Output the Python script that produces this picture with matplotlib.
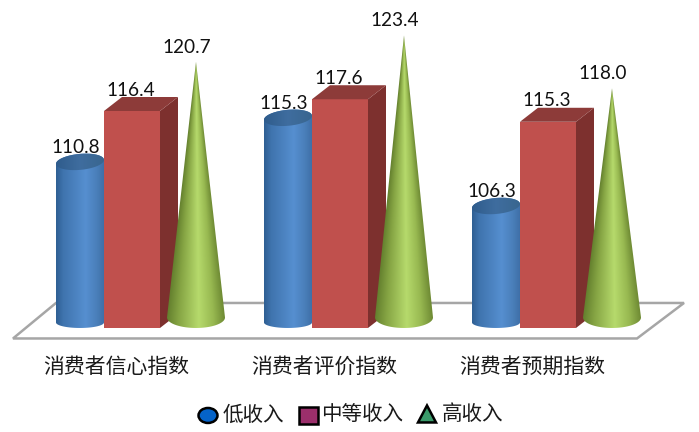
import numpy as np
import matplotlib
matplotlib.use('Agg')
import matplotlib.pyplot as plt
from matplotlib.colors import LinearSegmentedColormap
from matplotlib.patches import Ellipse, Polygon

plt.rcParams['font.family'] = ['Noto Sans CJK SC', 'DejaVu Sans']

categories = ['消费者信心指数', '消费者评价指数', '消费者预期指数']
low_income = [110.8, 115.3, 106.3]
mid_income = [116.4, 117.6, 115.3]
high_income = [120.7, 123.4, 118.0]
legend_names = ['低收入', '中等收入', '高收入']

# one category = 208 px, one index point = 9.8 px
XPX = 1 / 208.0
YPX = 1 / 9.8
BASE = 94.26

blue_cmap = LinearSegmentedColormap.from_list('b', [(0, '#2f5f93'), (0.15, '#3f74ae'), (0.62, '#568fd0'), (0.85, '#4a7fba'), (1, '#3f70a8')])
green_cmap = LinearSegmentedColormap.from_list('g', [(0, '#64802e'), (0.2, '#86a544'), (0.55, '#b6da6c'), (0.8, '#98b951'), (1, '#6f8b34')])
blue_top = LinearSegmentedColormap.from_list('bt', ['#2f5c8c', '#3f6d9f', '#39668f'])


def cap_edge(top, t):
    # cap is seen at a slant, rising a little to the right
    return top + (4 + 8 * np.sin(t) + 2 * np.cos(t)) * YPX


def fill_cylinder(ax, cx, top):
    rx = 24 * XPX
    t = np.linspace(0, np.pi, 60)
    bottom = BASE + 5.5 * YPX
    xs = np.r_[cx + rx * np.cos(t), cx - rx * np.cos(t)]
    ys = np.r_[cap_edge(top, t), bottom - 5.5 * YPX * np.sin(t)]
    clip = Polygon(np.c_[xs, ys], closed=True, transform=ax.transData, fc='none', ec='none')
    ax.add_patch(clip)
    grad = np.linspace(0, 1, 128).reshape(1, -1)
    im = ax.imshow(grad, extent=[cx - rx, cx + rx, BASE, top + 15 * YPX], cmap=blue_cmap,
                   aspect='auto', vmin=0, vmax=1, zorder=2)
    im.set_clip_path(clip)
    t2 = np.linspace(0, 2 * np.pi, 120)
    cap_xy = np.c_[cx + rx * np.cos(t2), cap_edge(top, t2)]
    cap = Polygon(cap_xy, closed=True, transform=ax.transData, fc='none', ec='none')
    ax.add_patch(cap)
    im2 = ax.imshow(grad, extent=[cx - rx, cx + rx, top - 8 * YPX, top + 15 * YPX], cmap=blue_top,
                    aspect='auto', vmin=0, vmax=1, zorder=2.1)
    im2.set_clip_path(cap)


def fill_bar(ax, left, value):
    w = 56 * XPX
    dx = 18 * XPX
    dy = 14 * YPX
    ax.bar(left, value - BASE, width=w, bottom=BASE, align='edge', color='#c0504d', lw=0, zorder=3)
    side = [(left + w, BASE), (left + w + dx, BASE + dy), (left + w + dx, value + dy), (left + w, value)]
    top = [(left, value), (left + dx, value + dy), (left + w + dx, value + dy), (left + w, value)]
    ax.add_patch(Polygon(side, closed=True, fc='#7d302e', ec='none', zorder=3))
    ax.add_patch(Polygon(top, closed=True, fc='#8d3b39', ec='none', zorder=3))


def fill_cone(ax, cx, value):
    rx = 29 * XPX
    apex = value + 7 * YPX
    base_c = BASE + 10.5 * YPX
    low = BASE
    t = np.linspace(np.pi, 2 * np.pi, 60)
    xs = np.r_[cx + rx * np.cos(t), cx]
    ys = np.r_[base_c + 10.5 * YPX * np.sin(t), apex]
    clip = Polygon(np.c_[xs, ys], closed=True, transform=ax.transData, fc='none', ec='none')
    ax.add_patch(clip)
    # shading follows the slant of the cone
    row = np.linspace(apex, low, 300)
    half = np.maximum(rx * (apex - row) / (apex - base_c), 1e-4)
    half = np.minimum(half, rx)
    col = np.linspace(cx - rx, cx + rx, 200)
    u = (col[None, :] - cx) / half[:, None]
    u = np.clip((u + 1) / 2, 0, 1)
    im = ax.imshow(u, extent=[cx - rx, cx + rx, low, apex], cmap=green_cmap,
                   aspect='auto', vmin=0, vmax=1, zorder=4)
    im.set_clip_path(clip)


fig = plt.figure(figsize=(6.99, 4.32), dpi=100)
ax = fig.add_axes([0, 0, 1, 1])
ax.axis('off')

# floor of the 3d box
floor = [(-119 * XPX, BASE - 10.5 * YPX), (505 * XPX, BASE - 10.5 * YPX),
         (552 * XPX, BASE + 25 * YPX), (-76 * XPX, BASE + 25 * YPX)]
ax.add_patch(Polygon(floor, closed=True, fc='white', ec='#a6a6a6', lw=1.8, zorder=1))

for i in range(3):
    fill_cylinder(ax, i - 52 * XPX, low_income[i])
    fill_bar(ax, i - 28 * XPX, mid_income[i])
    fill_cone(ax, i + 64 * XPX, high_income[i])

    ax.text(i - 56 * XPX, low_income[i] + 18 * YPX, '%.1f' % low_income[i], family='Lato', fontsize=13.7,
            ha='center', va='center', color='#111111', zorder=6)
    ax.text(i - 1.5 * XPX, mid_income[i] + 21 * YPX, '%.1f' % mid_income[i], family='Lato', fontsize=13.7,
            ha='center', va='center', color='#111111', zorder=6)
    ax.text(i + 55 * XPX, high_income[i] + 21.5 * YPX, '%.1f' % high_income[i], family='Lato', fontsize=13.7,
            ha='center', va='center', color='#111111', zorder=6)
    ax.text(i - 15.5 * XPX, BASE - 38.5 * YPX, categories[i], fontsize=15, ha='center', va='center',
            color='#1a1a1a', fontweight='light', zorder=6)

# legend
leg_y = BASE - 87.5 * YPX
ax.add_patch(Ellipse((76 * XPX, leg_y), 19 * XPX, 15 * YPX, fc='#0563c8', ec='black', lw=1.8, zorder=6))
ax.add_patch(Polygon([(167 * XPX, leg_y - 8.5 * YPX), (186 * XPX, leg_y - 8.5 * YPX),
                      (186 * XPX, leg_y + 8.5 * YPX), (167 * XPX, leg_y + 8.5 * YPX)],
                     closed=True, fc='#9b2f6b', ec='black', lw=1.8, zorder=6))
ax.add_patch(Polygon([(286 * XPX, leg_y - 7 * YPX), (304 * XPX, leg_y - 7 * YPX), (295 * XPX, leg_y + 10 * YPX)],
                     closed=True, fc='#3a9a6a', ec='black', lw=1.8, zorder=6))
for x, name in zip([90.5, 189.5, 309.5], legend_names):
    ax.text(x * XPX, leg_y + 1 * YPX, name, fontsize=14.8, ha='left', va='center', color='#1a1a1a',
            fontweight='light', zorder=6)

ax.set_xlim(-132 * XPX, (699 - 132) * XPX)
ax.set_ylim(116.4 - (432 - 111) * YPX, 116.4 + 111 * YPX)

plt.savefig('out.png', dpi=100, facecolor='white')
